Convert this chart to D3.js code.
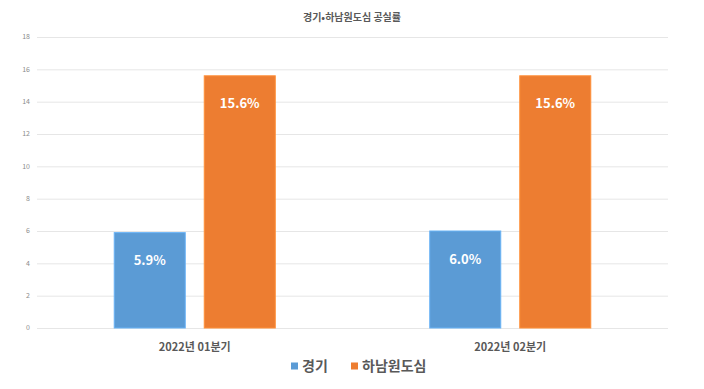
<!DOCTYPE html>
<html>
<head>
<meta charset="utf-8">
<script src="https://cdn.jsdelivr.net/npm/d3@7"></script>
<style>
  body { margin: 0; background: #fff; }
  text { font-family: "Noto Sans CJK KR", "Noto Sans", sans-serif; }
</style>
</head>
<body>
<div id="chart"></div>
<script>
// chart data
var categories = ["2022년 01분기", "2022년 02분기"];
var seriesNames = ["경기", "하남원도심"];
var gyeonggi = [5.9, 6.0];
var hanam = [15.6, 15.6];
var yTicks = [0, 2, 4, 6, 8, 10, 12, 14, 16, 18];
var colors = ["#5b9bd5", "#ed7d31"];

const WIDTH = 704, HEIGHT = 389;
const PLOT = { LEFT: 37, RIGHT: 668, TOP: 37, BOTTOM: 328 };

var svg = d3.select("#chart").append("svg")
  .attr("width", WIDTH)
  .attr("height", HEIGHT);

var y = d3.scaleLinear().domain([0, 18]).range([PLOT.BOTTOM, PLOT.TOP]);
var x0 = d3.scaleBand().domain(categories).range([PLOT.LEFT, PLOT.RIGHT]).padding(0);
var x1 = d3.scaleBand().domain(seriesNames).range([0, x0.bandwidth()])
  .paddingInner(0.211).paddingOuter(0.858);

// gridlines
svg.append("g").selectAll("line")
  .data(yTicks)
  .enter().append("line")
  .attr("x1", PLOT.LEFT).attr("x2", PLOT.RIGHT)
  .attr("y1", d => y(d) + 0.5).attr("y2", d => y(d) + 0.5)
  .style("stroke", "#e6e6e6");

// y tick labels
svg.append("g").selectAll("text")
  .data(yTicks)
  .enter().append("text")
  .attr("x", 30)
  .attr("y", d => y(d))
  .attr("dy", "0.35em")
  .attr("text-anchor", "end")
  .style("font-size", "7px")
  .style("fill", "#8c8c8c")
  .text(d => d);

// title
svg.append("text")
  .attr("x", 352).attr("y", 21)
  .attr("text-anchor", "middle")
  .style("font-size", "10px")
  .style("font-weight", "bold")
  .style("fill", "#595959")
  .text("경기•하남원도심 공실률");

var rows = [];
categories.forEach(function (c, i) {
  rows.push({ cat: c, name: seriesNames[0], value: gyeonggi[i], color: colors[0] });
  rows.push({ cat: c, name: seriesNames[1], value: hanam[i], color: colors[1] });
});

// bars
svg.append("g").selectAll("rect")
  .data(rows)
  .enter().append("rect")
  .attr("x", d => x0(d.cat) + x1(d.name))
  .attr("y", d => y(d.value))
  .attr("width", x1.bandwidth())
  .attr("height", d => y(0) - y(d.value))
  .style("fill", d => d.color)
  .style("stroke", d => d3.color(d.color).brighter(0.4))
  .style("stroke-width", 1);

// value labels
svg.append("g").selectAll("text")
  .data(rows)
  .enter().append("text")
  .attr("x", d => x0(d.cat) + x1(d.name) + x1.bandwidth() / 2)
  .attr("y", d => y(d.value) + 28)
  .attr("dy", "0.35em")
  .attr("text-anchor", "middle")
  .style("font-size", "13px")
  .style("font-weight", "bold")
  .style("fill", "#fff")
  .text(d => d.value.toFixed(1) + "%");

// category labels
svg.append("g").selectAll("text")
  .data(categories)
  .enter().append("text")
  .attr("x", d => x0(d) + x0.bandwidth() / 2)
  .attr("y", 347)
  .attr("dy", "0.35em")
  .attr("text-anchor", "middle")
  .style("font-size", "11px")
  .style("font-weight", "bold")
  .style("fill", "#595959")
  .text(d => d);

// legend
var legendX = [291, 351];
var legend = svg.append("g").selectAll("g")
  .data(seriesNames)
  .enter().append("g")
  .attr("transform", (d, i) => `translate(${legendX[i]}, 366)`);
legend.append("rect")
  .attr("x", 0).attr("y", -3.5)
  .attr("width", 7).attr("height", 7)
  .style("fill", (d, i) => colors[i]);
legend.append("text")
  .attr("x", 11).attr("y", 0)
  .attr("dy", "0.35em")
  .style("font-size", "14px")
  .style("font-weight", "bold")
  .style("fill", "#595959")
  .text(d => d);
</script>
</body>
</html>
